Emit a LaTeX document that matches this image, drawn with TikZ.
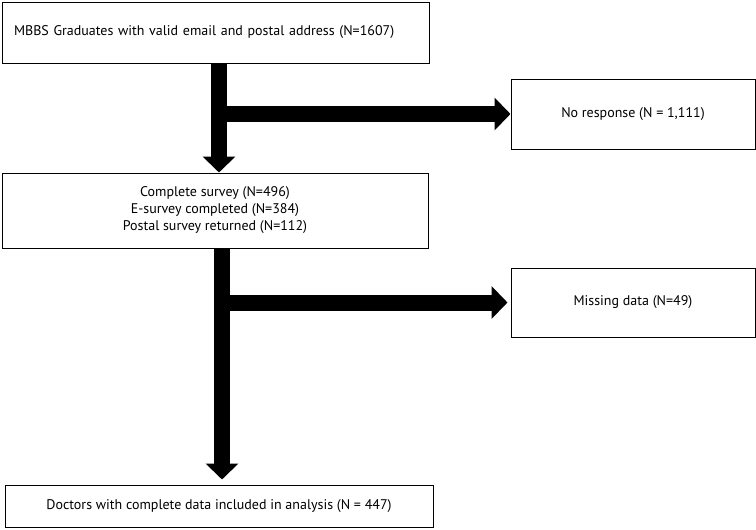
\documentclass[tikz,border=0pt]{standalone}
\usepackage{fontspec}
\setmainfont{PT Sans}
\usetikzlibrary{arrows.meta,calc}
\begin{document}
\begin{tikzpicture}[x=1pt,y=-1pt,
  box/.style={draw=black,line width=1pt,inner sep=0pt,align=center,font=\fontsize{14}{17}\selectfont},
  fat/.style={line width=16pt,-{Triangle[width=32pt,length=16pt]}}]
\useasboundingbox (0,0) rectangle (756,530);
\node[box,minimum width=427pt,minimum height=61pt,text width=403pt,align=left,inner xsep=12pt] (b1) at (215.5,32.5) {MBBS Graduates with valid email and postal address (N=1607)};
\node[box,minimum width=244pt,minimum height=70pt] (b3) at (633,114) {No response (N = 1,111)};
\node[box,minimum width=426pt,minimum height=75pt] (b2) at (215,210.5) {Complete survey (N=496)\\E-survey completed (N=384)\\Postal survey returned (N=112)};
\node[box,minimum width=244pt,minimum height=69pt] (b4) at (633,302.5) {Missing data (N=49)};
\node[box,minimum width=428pt,minimum height=42pt] (b5) at (219,506) {Doctors with complete data included in analysis (N = 447)};
\coordinate (s1) at (219,0);
\coordinate (s2) at (222,0);
\draw[fat] (b1.south -| s1) -- (b2.north -| s1);
\draw[fat] (b3.west -| s1) -- (b3.west);
\draw[fat,shorten >=5pt] (b2.south -| s2) -- (b5.north -| s2);
\draw[fat,shorten >=3pt] (b4.west -| s2) -- (b4.west);
\end{tikzpicture}
\end{document}
